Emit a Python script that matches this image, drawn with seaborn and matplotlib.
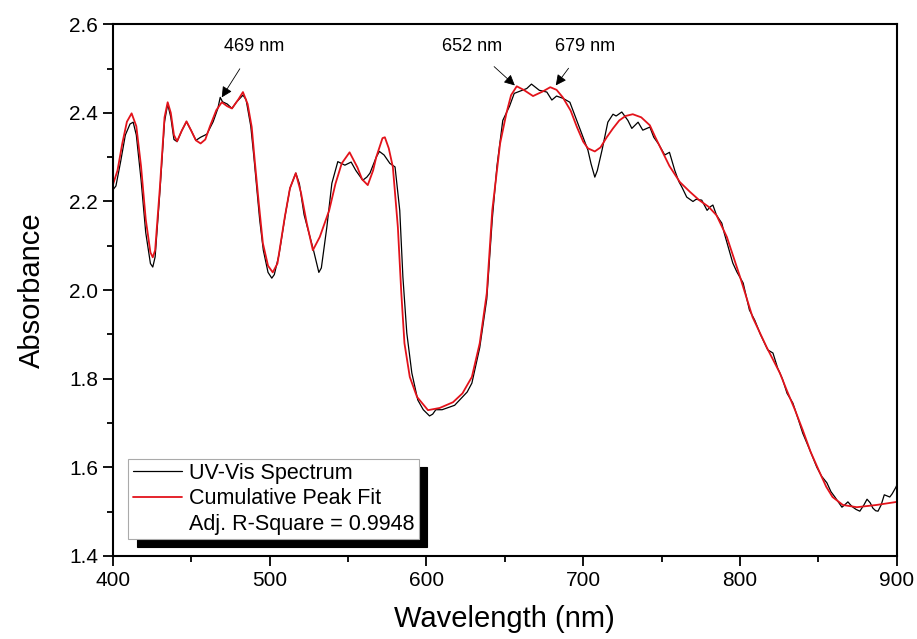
import seaborn as sns
import matplotlib.pyplot as plt
import pandas as pd
from matplotlib.lines import Line2D
from matplotlib.ticker import MultipleLocator

# measured spectrum (black)
spec_wl = [400, 402, 405, 408, 411, 413, 415, 418, 421, 424, 425.5, 427, 430, 433, 435, 437, 439, 441,
           444, 447, 450, 453, 456, 460, 464, 467, 468.5, 470, 473, 476, 479, 483, 485, 488, 490, 493.7,
           496, 499, 501.4, 503, 506, 510, 513, 516.7, 519, 522, 525, 528, 531.4, 533, 536.5, 539.7,
           543.5, 548, 552, 555, 559.4, 562, 564, 568, 570, 573, 576.7, 580, 583, 585, 587.5, 590.7,
           594.5, 598, 602, 604, 606, 610, 614, 618, 622, 626, 629, 634, 638.5, 642, 645, 648.7, 653,
           656, 661, 664, 667, 672, 676.8, 680, 683, 687, 691.5, 694.6, 699, 703, 705, 707.4, 709, 712,
           715.7, 719, 721, 724.6, 728.5, 731, 735, 738, 742.5, 745, 748, 752, 755, 758.4, 761, 763, 766,
           770, 772, 775.6, 779, 781, 782.7, 785, 788.4, 790, 795.4, 798, 802, 806, 809.4, 813, 817.7,
           821, 824, 827, 830, 833.7, 837, 840, 845, 849, 852, 855.4, 858, 860.5, 863, 865, 867, 868.8,
           870.5, 872, 874, 876.4, 879, 881, 883, 884.7, 886.5, 888, 890, 892, 894, 895.5, 897, 899.4, 900]
spec_abs = [2.226, 2.235, 2.29, 2.35, 2.375, 2.379, 2.35, 2.25, 2.13, 2.06, 2.052, 2.075, 2.22, 2.38,
            2.42, 2.39, 2.34, 2.335, 2.36, 2.38, 2.36, 2.338, 2.345, 2.352, 2.38, 2.41, 2.435, 2.425,
            2.42, 2.41, 2.425, 2.44, 2.43, 2.37, 2.3, 2.158, 2.09, 2.04, 2.027, 2.035, 2.08, 2.17, 2.23,
            2.264, 2.24, 2.17, 2.13, 2.09, 2.04, 2.05, 2.142, 2.241, 2.29, 2.282, 2.289, 2.27, 2.248,
            2.255, 2.264, 2.3, 2.313, 2.305, 2.286, 2.278, 2.18, 2.03, 1.903, 1.813, 1.752, 1.73, 1.716,
            1.72, 1.73, 1.73, 1.735, 1.74, 1.755, 1.77, 1.79, 1.87, 1.98, 2.16, 2.28, 2.383, 2.415, 2.444,
            2.451, 2.455, 2.465, 2.451, 2.447, 2.429, 2.438, 2.433, 2.424, 2.395, 2.354, 2.316, 2.285,
            2.255, 2.27, 2.316, 2.379, 2.397, 2.393, 2.402, 2.383, 2.365, 2.379, 2.361, 2.368, 2.345,
            2.33, 2.305, 2.311, 2.27, 2.245, 2.232, 2.21, 2.2, 2.205, 2.203, 2.18, 2.188, 2.192, 2.169,
            2.151, 2.128, 2.061, 2.041, 2.016, 1.955, 1.932, 1.9, 1.865, 1.858, 1.824, 1.8, 1.767, 1.745,
            1.71, 1.677, 1.635, 1.6, 1.58, 1.565, 1.545, 1.533, 1.52, 1.51, 1.516, 1.522, 1.515, 1.51,
            1.505, 1.501, 1.515, 1.528, 1.52, 1.508, 1.502, 1.501, 1.515, 1.538, 1.535, 1.533, 1.54,
            1.555, 1.56]

# cumulative peak fit (red)
fit_wl = [400, 403, 406, 409, 412, 415, 418, 421, 424, 425.5, 427, 430, 433, 435, 437, 439, 441, 444,
          447, 450, 453, 456, 459, 462, 466, 469.5, 473, 476, 480, 483, 486, 488.6, 490.5, 493, 495.7,
          499, 502, 505, 509.7, 513, 516.7, 520, 523.7, 527.6, 532, 538, 542, 546, 551, 556, 559,
          562.6, 566, 568, 572, 573.5, 576, 578.6, 581.8, 584, 586, 589.4, 594, 601, 608.5, 617, 623,
          629, 634, 638.5, 642, 647, 651, 654, 657.6, 662, 668, 674, 679, 683, 687, 692, 696, 700, 703,
          707.4, 711, 715, 719, 723, 727, 731.6, 737, 742.5, 746, 750, 755, 761.6, 768, 774, 780, 785,
          791.6, 800, 808, 817, 825.4, 829.8, 835, 840, 845, 851, 855, 859, 865.6, 874.5, 887, 900]
fit_abs = [2.237, 2.27, 2.33, 2.38, 2.399, 2.37, 2.28, 2.16, 2.085, 2.074, 2.09, 2.23, 2.39, 2.424,
           2.4, 2.35, 2.336, 2.36, 2.381, 2.36, 2.338, 2.331, 2.34, 2.37, 2.406, 2.424, 2.415, 2.41,
           2.43, 2.447, 2.42, 2.368, 2.293, 2.2, 2.106, 2.055, 2.04, 2.06, 2.165, 2.23, 2.264, 2.22,
           2.151, 2.09, 2.12, 2.18, 2.24, 2.286, 2.311, 2.277, 2.25, 2.237, 2.27, 2.3, 2.343, 2.345,
           2.32, 2.278, 2.142, 1.993, 1.88, 1.804, 1.759, 1.729, 1.734, 1.747, 1.767, 1.804, 1.88,
           1.993, 2.18, 2.331, 2.399, 2.44, 2.46, 2.452, 2.438, 2.448, 2.458, 2.452, 2.435, 2.405,
           2.368, 2.335, 2.32, 2.313, 2.322, 2.345, 2.365, 2.383, 2.393, 2.397, 2.39, 2.372, 2.345,
           2.316, 2.28, 2.244, 2.222, 2.203, 2.188, 2.169, 2.12, 2.03, 1.939, 1.871, 1.813, 1.774,
           1.73, 1.684, 1.635, 1.587, 1.556, 1.533, 1.515, 1.51, 1.515, 1.522]

# annotated peaks: (label, arrow tip, text position)
peak_labels = ["469 nm", "652 nm", "679 nm"]
peak_tips = [(469.5, 2.435), (656.4, 2.462), (682.5, 2.462)]
peak_text = [(490, 2.55), (629, 2.55), (701, 2.55)]

legend_labels = ["UV-Vis Spectrum", "Cumulative Peak Fit", "Adj. R-Square = 0.9948"]

spec = pd.DataFrame({"wl": spec_wl, "abs": spec_abs})
fit = pd.DataFrame({"wl": fit_wl, "abs": fit_abs})

sns.set_theme(style="ticks")
plt.rcParams["font.family"] = ["Liberation Sans", "DejaVu Sans"]
plt.rcParams["text.color"] = "black"
plt.rcParams["axes.labelcolor"] = "black"

fig, ax = plt.subplots(figsize=(9.17, 6.39), dpi=100)
fig.subplots_adjust(left=0.123, right=0.978, top=0.962, bottom=0.13)

red = "#e3131b"
sns.lineplot(data=spec, x="wl", y="abs", ax=ax, color="black", lw=0.9, sort=False)
sns.lineplot(data=fit, x="wl", y="abs", ax=ax, color=red, lw=1.3, sort=False)

for lab, tip, txt in zip(peak_labels, peak_tips, peak_text):
    ax.annotate(lab, xy=tip, xytext=txt, ha="center", va="center", fontsize=13, color="black",
                arrowprops=dict(arrowstyle="-|>", color="black", lw=0.6,
                                mutation_scale=16, shrinkA=9, shrinkB=0))

ax.set_xlim(400, 900)
ax.set_ylim(1.4, 2.6)
ax.xaxis.set_major_locator(MultipleLocator(100))
ax.xaxis.set_minor_locator(MultipleLocator(50))
ax.yaxis.set_major_locator(MultipleLocator(0.2))
ax.yaxis.set_minor_locator(MultipleLocator(0.1))
ax.yaxis.set_major_formatter(plt.FormatStrFormatter("%.1f"))

ax.tick_params(which="major", direction="out", length=7, width=1.3, labelsize=15, color="black",
               labelcolor="black")
ax.tick_params(which="minor", direction="out", length=4, width=1.3, color="black")
for s in ax.spines.values():
    s.set_linewidth(1.5)
    s.set_color("black")
    s.set_visible(True)

ax.set_xlabel("Wavelength (nm)", fontsize=21, labelpad=11)
ax.set_ylabel("Absorbance", fontsize=21, labelpad=17)

handles = [Line2D([], [], color="black", lw=0.9),
           Line2D([], [], color=red, lw=1.3),
           Line2D([], [], color="none")]
leg = ax.legend(handles, legend_labels, loc="lower left", bbox_to_anchor=(0.02, 0.032),
                borderaxespad=0, fontsize=15.5, frameon=True, fancybox=False, framealpha=1,
                edgecolor="#aaaaaa", handlelength=2.3, handletextpad=0.3, labelspacing=0.2,
                borderpad=0.2,
                shadow={"ox": 6, "oy": -6, "facecolor": "black", "edgecolor": "black", "alpha": 1})
leg.get_frame().set_linewidth(0.8)

fig.savefig("out.png", dpi=100)
